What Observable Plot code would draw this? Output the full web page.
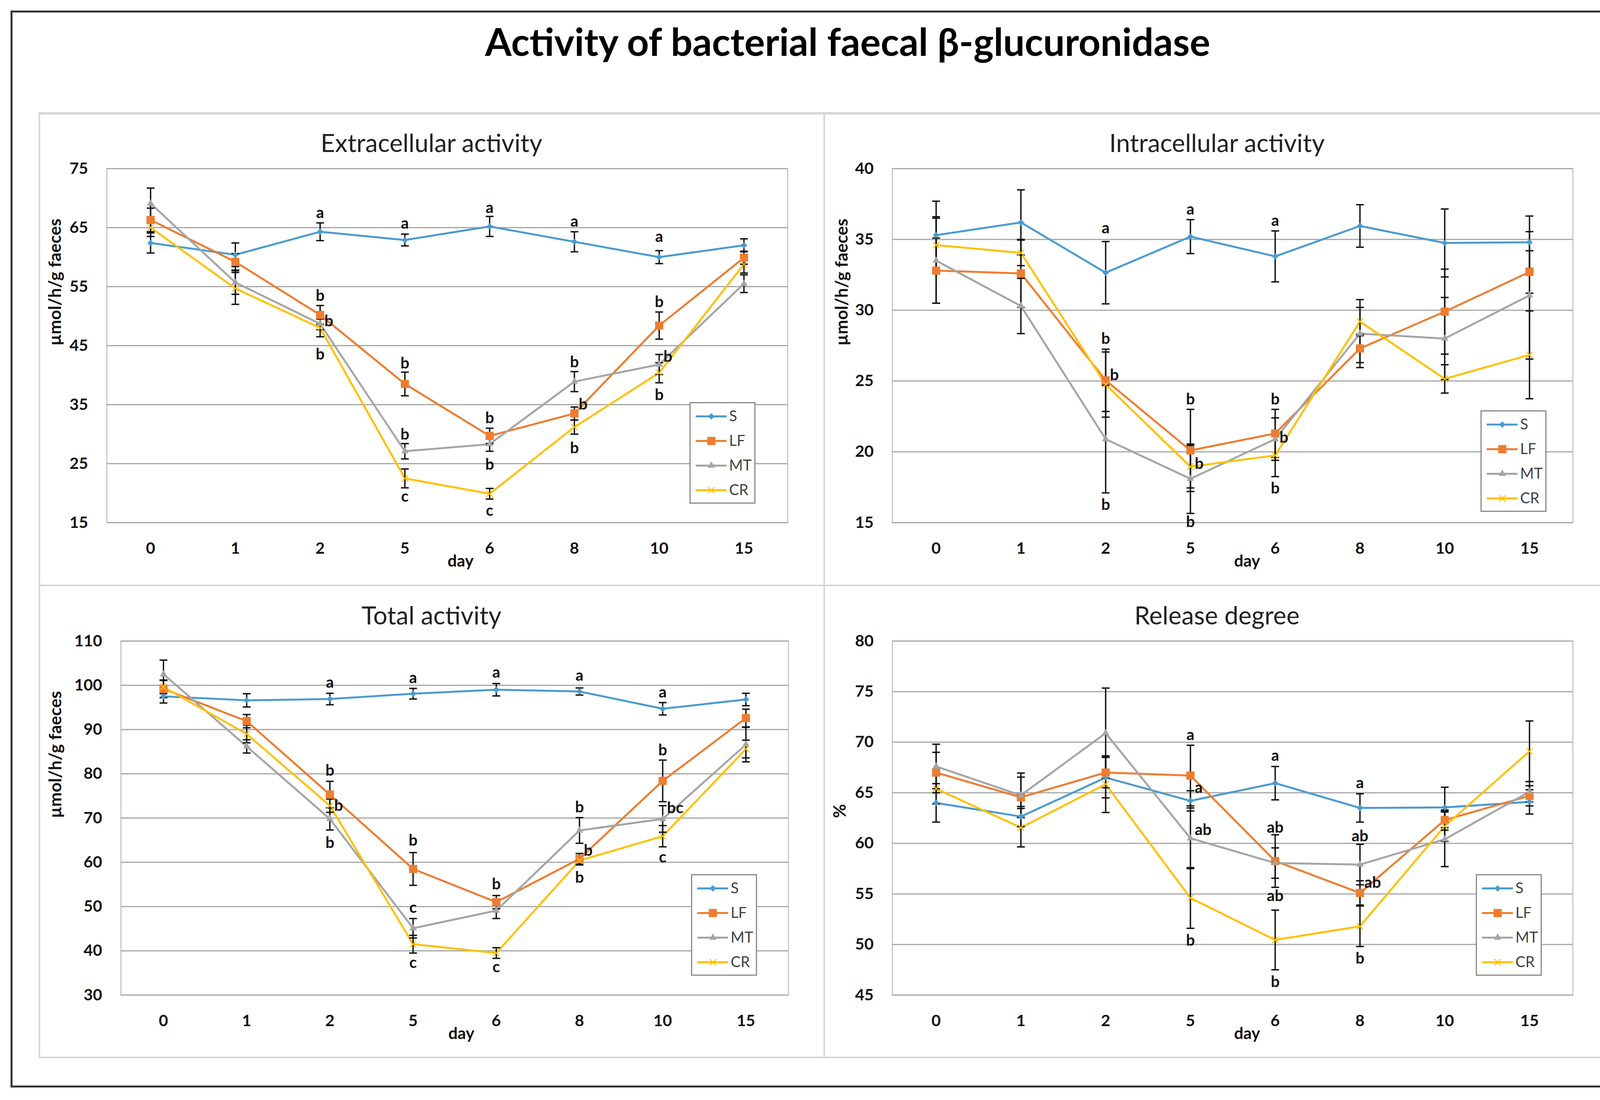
<!DOCTYPE html>
<html>
<head>
<meta charset="utf-8">
<script src="https://cdn.jsdelivr.net/npm/d3@7"></script>
<script src="https://cdn.jsdelivr.net/npm/@observablehq/plot@0.6"></script>
<style>
  html, body { margin: 0; padding: 0; background: #fff; }
  body { width: 4217px; height: 2815px; position: relative; overflow: hidden; font-family: Lato, "Open Sans", sans-serif; }
  #frame { position: absolute; left: 27px; top: 27px; width: 4156px; height: 2756px; border: 5px solid #333; box-sizing: border-box; }
  #title { position: absolute; left: 0; width: 4340px; top: 56px; text-align: center; font-size: 98px; line-height: 98px; font-weight: bold; color: #000; white-space: nowrap; }
  #grid { position: absolute; left: 99px; top: 287px; width: 4022px; height: 2421px; border: 4px solid #d6d6d6; border-top-width: 6px; box-sizing: border-box; }
  .vline { position: absolute; left: 2108px; top: 289px; width: 4px; height: 2419px; background: #d6d6d6; }
  .hline { position: absolute; left: 99px; top: 1496px; width: 4022px; height: 4px; background: #d6d6d6; }
  .panel { position: absolute; width: 2011px; }
  .ptitle { position: absolute; left: 0; width: 100%; top: 44px; text-align: center; font-size: 64px; line-height: 64px; color: #222; white-space: nowrap; }
  .legend { position: absolute; width: 169px; height: 260px; border: 3px solid #8a8a8a; box-sizing: border-box; background: #fff; }
  .panel svg, .legend svg { position: absolute; left: 0; top: 0; }
</style>
</head>
<body>
<div id="frame"></div>
<div id="title">Activity of bacterial faecal β-glucuronidase</div>
<div id="grid"></div>
<div class="vline"></div>
<div class="hline"></div>
<script>
// ---------- data ----------
const days = ["0", "1", "2", "5", "6", "8", "10", "15"];
const seriesNames = ["S", "LF", "MT", "CR"];
const seriesColors = ["#4a9bd0", "#ed7d31", "#a5a5a5", "#ffc000"];

// Extracellular activity
const extTicks = [15, 25, 35, 45, 55, 65, 75];
const extS = [62.4, 60.4, 64.3, 62.9, 65.2, 62.6, 60.0, 62.0];
const extSErr = [1.7, 2.0, 1.5, 1.0, 1.7, 1.7, 1.1, 1.1];
const extLF = [66.3, 59.2, 50.2, 38.5, 29.7, 33.5, 48.4, 59.9];
const extLFErr = [2.0, 1.4, 1.6, 2.0, 1.3, 1.1, 2.3, 1.1];
const extMT = [69.1, 55.7, 48.7, 27.1, 28.3, 38.9, 41.8, 55.5];
const extMTErr = [2.6, 2.0, 1.0, 1.3, 1.2, 1.7, 1.7, 1.5];
const extCR = [65.0, 54.7, 48.0, 22.5, 19.9, 31.2, 40.4, 58.8];
const extCRErr = [1.5, 2.7, 1.5, 1.6, 0.9, 1.2, 1.7, 1.5];
const extLetters = [
  ["2", 67.5, "a"], ["2", 53.4, "b"], ["2", 49.1, "b", "r"], ["2", 43.5, "b"],
  ["5", 65.7, "a"], ["5", 42.0, "b"], ["5", 29.9, "b"], ["5", 19.4, "c"],
  ["6", 68.3, "a"], ["6", 32.7, "b"], ["6", 24.8, "b"], ["6", 17.0, "c"],
  ["8", 66.0, "a"], ["8", 42.2, "b"], ["8", 35.0, "b", "r"], ["8", 27.6, "b"],
  ["10", 63.4, "a"], ["10", 52.4, "b"], ["10", 43.1, "b", "r"], ["10", 36.6, "b"]
];

// Intracellular activity
const intTicks = [15, 20, 25, 30, 35, 40];
const intS = [35.3, 36.2, 32.65, 35.2, 33.8, 35.95, 34.75, 34.8];
const intSErr = [2.4, 2.3, 2.2, 1.2, 1.8, 1.5, 2.4, 1.85];
const intLF = [32.8, 32.6, 25.05, 20.1, 21.3, 27.3, 29.9, 32.7];
const intLFErr = [2.3, 2.4, 2.2, 2.9, 1.7, 1.0, 3.0, 1.5];
const intMT = [33.5, 30.3, 20.9, 18.1, 20.9, 28.35, 28.0, 31.05];
const intMTErr = [3.0, 1.95, 3.8, 2.45, 1.5, 2.4, 2.9, 4.5];
const intCR = [34.6, 34.05, 24.75, 18.95, 19.75, 29.2, 25.15, 26.85];
const intCRErr = [2.0, 0.9, 2.3, 1.5, 1.5, 1.0, 1.0, 3.1];
const intLetters = [
  ["2", 35.8, "a"], ["2", 27.97, "b"], ["2", 25.4, "b", "r"], ["2", 16.25, "b"],
  ["5", 37.1, "a"], ["5", 23.7, "b"], ["5", 19.15, "b", "r"], ["5", 15.04, "b"],
  ["6", 36.3, "a"], ["6", 23.7, "b"], ["6", 21.0, "b", "r"], ["6", 17.4, "b"]
];

// Total activity
const totTicks = [30, 40, 50, 60, 70, 80, 90, 100, 110];
const totS = [97.5, 96.6, 96.9, 98.1, 99.0, 98.6, 94.7, 96.8];
const totSErr = [1.5, 1.5, 1.3, 1.2, 1.4, 0.8, 1.4, 1.4];
const totLF = [99.2, 91.9, 75.3, 58.5, 51.0, 60.8, 78.4, 92.6];
const totLFErr = [2.0, 1.5, 3.0, 3.7, 1.5, 1.2, 4.7, 2.0];
const totMT = [102.5, 86.2, 69.8, 45.1, 49.1, 67.2, 69.8, 86.6];
const totMTErr = [3.2, 1.5, 2.5, 2.2, 1.8, 2.9, 3.0, 3.9];
const totCR = [99.6, 89.0, 72.8, 41.5, 39.5, 60.4, 65.9, 85.6];
const totCRErr = [1.5, 2.0, 1.5, 2.0, 1.2, 1.0, 2.4, 2.0];
const totLetters = [
  ["2", 100.6, "a"], ["2", 80.7, "b"], ["2", 72.8, "b", "r"], ["2", 64.4, "b"],
  ["5", 101.6, "a"], ["5", 64.9, "b"], ["5", 49.7, "c"], ["5", 37.3, "c"],
  ["6", 102.85, "a"], ["6", 55.0, "b"], ["6", 36.3, "c"],
  ["8", 102.2, "a"], ["8", 72.4, "b"], ["8", 62.6, "b", "r"], ["8", 56.5, "b"],
  ["10", 98.4, "a"], ["10", 85.3, "b"], ["10", 72.2, "bc", "r"], ["10", 61.1, "c"]
];

// Release degree
const relTicks = [45, 50, 55, 60, 65, 70, 75, 80];
const relS = [64.0, 62.65, 66.5, 64.2, 65.95, 63.5, 63.55, 64.1];
const relSErr = [1.9, 1.0, 2.0, 1.0, 1.65, 1.4, 2.0, 1.2];
const relLF = [67.0, 64.55, 67.0, 66.7, 58.25, 55.1, 62.3, 64.7];
const relLFErr = [2.0, 2.0, 1.5, 3.0, 2.6, 1.2, 1.0, 1.0];
const relMT = [67.6, 64.75, 70.9, 60.5, 58.05, 57.9, 60.4, 65.1];
const relMTErr = [2.2, 2.2, 4.45, 3.0, 1.5, 2.0, 2.7, 1.0];
const relCR = [65.4, 61.55, 65.85, 54.6, 50.45, 51.8, 61.7, 69.1];
const relCRErr = [1.5, 1.9, 2.8, 3.0, 2.95, 2.0, 1.5, 3.0];
const relLetters = [
  ["5", 70.7, "a"], ["5", 65.5, "a", "r"], ["5", 61.3, "ab", "r"], ["5", 50.4, "b"],
  ["6", 68.66, "a"], ["6", 61.56, "ab"], ["6", 54.8, "ab"], ["6", 46.3, "b"],
  ["8", 65.94, "a"], ["8", 60.7, "ab"], ["8", 56.1, "ab", "r"], ["8", 48.6, "b"]
];

// ---------- drawing ----------
const cap = {
  draw(context, size) {
    const r = Math.sqrt(size / Math.PI);
    context.moveTo(-r, 0);
    context.lineTo(r, 0);
  }
};

function markerMark(rows, k, x, y) {
  const c = seriesColors[k];
  if (k === 0) return Plot.dot(rows, {x, y, symbol: "diamond2", r: 7.5, fill: c, stroke: "none"});
  if (k === 1) return Plot.dot(rows, {x, y, symbol: "square", r: 11.8, fill: c, stroke: "none"});
  if (k === 2) return Plot.dot(rows, {x, y, symbol: "triangle2", r: 9, fill: c, stroke: "none"});
  return Plot.dot(rows, {x, y, symbol: "times", r: 7.5, fill: "none", stroke: c, strokeWidth: 2.5});
}

function chart(p) {
  const rowsBy = p.values.map((vals, k) => days.map((d, i) => ({day: d, v: vals[i], e: p.errors[k][i]})));
  const marks = [
    Plot.frame({stroke: "#c8c8c8", strokeWidth: 3}),
    Plot.gridY(p.ticks, {stroke: "#a6a6a6", strokeOpacity: 1, strokeWidth: 3}),
    Plot.axisY({ticks: p.ticks, tickSize: 0, tickPadding: 48, fontSize: 41, fontWeight: "bold", fill: "#111", label: null}),
    Plot.axisX({tickSize: 0, tickPadding: 50, fontSize: 41, fontWeight: "bold", fill: "#111", label: null})
  ];
  rowsBy.forEach((rows, k) => marks.push(Plot.line(rows, {x: "day", y: "v", stroke: seriesColors[k], strokeWidth: 5})));
  rowsBy.forEach((rows) => {
    marks.push(Plot.ruleX(rows, {x: "day", y1: (d) => d.v - d.e, y2: (d) => d.v + d.e, stroke: "#111", strokeWidth: 3.5}));
    marks.push(Plot.dot(rows, {x: "day", y: (d) => d.v + d.e, symbol: cap, r: 10, fill: "none", stroke: "#111", strokeWidth: 3.5}));
    marks.push(Plot.dot(rows, {x: "day", y: (d) => d.v - d.e, symbol: cap, r: 10, fill: "none", stroke: "#111", strokeWidth: 3.5}));
  });
  rowsBy.forEach((rows, k) => marks.push(markerMark(rows, k, "day", "v")));
  marks.push(Plot.text(p.letters.filter((l) => l[3] !== "r"), {x: (l) => l[0], y: (l) => l[1], text: (l) => l[2], fontSize: 40, fontWeight: "bold", fill: "#111", lineAnchor: "middle"}));
  marks.push(Plot.text(p.letters.filter((l) => l[3] === "r"), {x: (l) => l[0], y: (l) => l[1], text: (l) => l[2], textAnchor: "start", dx: 11, fontSize: 40, fontWeight: "bold", fill: "#111", lineAnchor: "middle"}));
  marks.push(Plot.text(["day"], {text: (d) => d, frameAnchor: "bottom", dy: 99, dx: p.dayDx, lineAnchor: "middle", fontSize: 42, fontWeight: "bold", fill: "#111"}));
  marks.push(Plot.text([p.ylabel], {text: (d) => d, frameAnchor: "left", rotate: -90, dx: p.ylabelDx, lineAnchor: "middle", fontSize: 44, fontWeight: "bold", fill: "#111"}));

  return Plot.plot({
    width: 2011,
    height: p.height,
    marginLeft: p.marginLeft,
    marginRight: p.marginRight,
    marginTop: 142,
    marginBottom: p.height - 142 - 906,
    style: {fontFamily: "Lato, 'Open Sans', sans-serif", background: "transparent", overflow: "visible"},
    x: {type: "point", domain: days, padding: 0.5},
    y: {domain: [p.ticks[0], p.ticks[p.ticks.length - 1]]},
    marks
  });
}

function legend() {
  const rows = seriesNames.map((n, k) => ({name: n, color: seriesColors[k], k}));
  const marks = [
    Plot.ruleY(rows, {y: "name", x1: 0, x2: 1, stroke: "color", strokeWidth: 5})
  ];
  rows.forEach((r, k) => marks.push(markerMark([r], k, () => 0.5, "name")));
  marks.push(Plot.text(rows, {x: () => 1, y: "name", text: "name", textAnchor: "start", dx: 6, fontSize: 38, fill: "#404040", lineAnchor: "middle"}));
  return Plot.plot({
    width: 163, height: 254,
    marginLeft: 13, marginRight: 71, marginTop: 0, marginBottom: 0,
    style: {fontFamily: "Lato, 'Open Sans', sans-serif", background: "transparent", overflow: "visible"},
    x: {domain: [0, 1], axis: null},
    y: {type: "point", domain: seriesNames, padding: 0.5, axis: null},
    color: {type: "identity"},
    marks
  });
}

const panels = [
  {title: "Extracellular activity", left: 99, top: 289, height: 1209, marginLeft: 174, marginRight: 94,
   ticks: extTicks, values: [extS, extLF, extMT, extCR], errors: [extSErr, extLFErr, extMTErr, extCRErr],
   letters: extLetters, ylabel: "µmol/h/g faeces", ylabelDx: -132, dayDx: 34, legend: [1666, 740]},
  {title: "Intracellular activity", left: 2110, top: 289, height: 1209, marginLeft: 174, marginRight: 95,
   ticks: intTicks, values: [intS, intLF, intMT, intCR], errors: [intSErr, intLFErr, intMTErr, intCRErr],
   letters: intLetters, ylabel: "µmol/h/g faeces", ylabelDx: -129, dayDx: 37, legend: [1680, 761]},
  {title: "Total activity", left: 99, top: 1498, height: 1210, marginLeft: 210, marginRight: 92,
   ticks: totTicks, values: [totS, totLF, totMT, totCR], errors: [totSErr, totLFErr, totMTErr, totCRErr],
   letters: totLetters, ylabel: "µmol/h/g faeces", ylabelDx: -167, dayDx: 17, legend: [1670, 739]},
  {title: "Release degree", left: 2110, top: 1498, height: 1210, marginLeft: 174, marginRight: 95,
   ticks: relTicks, values: [relS, relLF, relMT, relCR], errors: [relSErr, relLFErr, relMTErr, relCRErr],
   letters: relLetters, ylabel: "%", ylabelDx: -134, dayDx: 37, legend: [1668, 739]}
];

for (const p of panels) {
  const div = document.createElement("div");
  div.className = "panel";
  div.style.left = p.left + "px";
  div.style.top = p.top + "px";
  div.style.height = p.height + "px";
  div.appendChild(chart(p));
  const t = document.createElement("div");
  t.className = "ptitle";
  t.textContent = p.title;
  div.appendChild(t);
  const lg = document.createElement("div");
  lg.className = "legend";
  lg.style.left = p.legend[0] + "px";
  lg.style.top = p.legend[1] + "px";
  lg.appendChild(legend());
  div.appendChild(lg);
  document.body.appendChild(div);
}
</script>
</body>
</html>
